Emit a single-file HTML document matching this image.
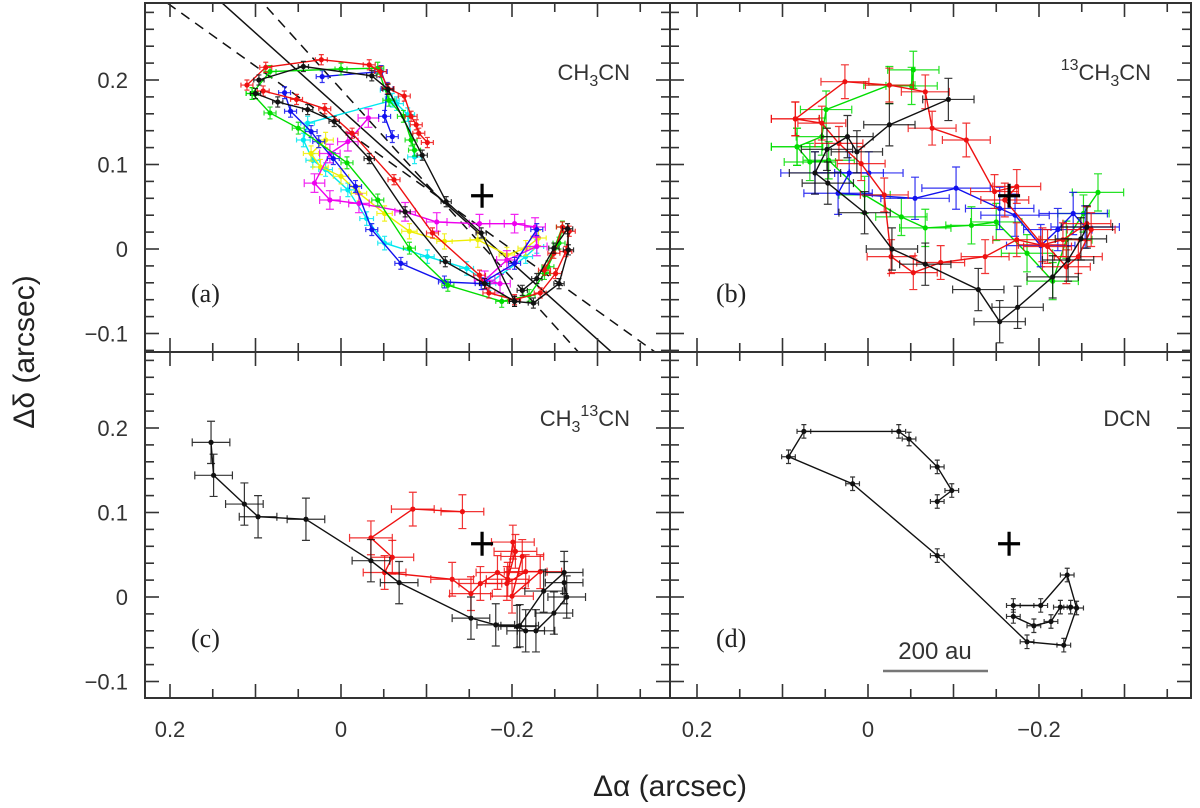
<!DOCTYPE html>
<html><head><meta charset="utf-8">
<style>
html,body{margin:0;padding:0;background:#fff;}
svg{display:block;font-family:"Liberation Sans","DejaVu Sans",sans-serif;}
</style></head>
<body>
<svg id="fig" width="1200" height="808" viewBox="0 0 1200 808" xmlns="http://www.w3.org/2000/svg">
<text x="670" y="796" font-size="30" text-anchor="middle" fill="#222">Δα (arcsec)</text>
<text transform="translate(34,352) rotate(-90)" font-size="30" text-anchor="middle" fill="#222">Δδ (arcsec)</text>
</svg>
<script>
// ---------- data (arcsec) ----------
const starPos = [-0.165, 0.063];
const xTicksLabels = ["0.2", "0", "\u22120.2"];
const xTickValues = [0.2, 0, -0.2];
const yTicksLabels = ["0.2", "0.1", "0", "\u22120.1"];
const yTickValues = [0.2, 0.1, 0, -0.1];
// panel (a) CH3CN
const aRedA = [[0.110,0.194],[0.088,0.215],[0.023,0.224],[-0.033,0.218],[-0.046,0.210],[-0.055,0.190],[-0.074,0.181],[-0.082,0.157],[-0.088,0.147],[-0.091,0.137],[-0.101,0.126]];
const aRedB = [[0.091,0.187],[0.052,0.177],[0.019,0.166],[-0.013,0.137],[-0.062,0.082],[-0.107,0.019],[-0.162,-0.031],[-0.173,-0.052],[-0.203,-0.060],[-0.233,-0.052],[-0.251,-0.029],[-0.263,-0.003],[-0.267,0.021],[-0.259,0.026],[-0.249,-0.005],[-0.238,-0.025]];
const aBlackA = [[0.096,0.200],[0.044,0.216],[-0.036,0.205],[-0.055,0.189],[-0.095,0.111],[-0.123,0.056],[-0.164,0.019],[-0.203,-0.062]];
const aBlackB = [[0.100,0.184],[0.074,0.174],[0.039,0.165],[0.008,0.151],[-0.033,0.107],[-0.075,0.044],[-0.122,-0.015],[-0.168,-0.041],[-0.203,-0.062],[-0.225,-0.064],[-0.255,-0.041],[-0.266,-0.001],[-0.265,0.024],[-0.249,0.001],[-0.229,-0.035],[-0.212,-0.049]];
const aGreenA = [[0.104,0.184],[0.083,0.210],[0.000,0.213],[-0.043,0.214],[-0.056,0.176],[-0.073,0.157],[-0.082,0.129],[-0.086,0.117]];
const aGreenB = [[0.104,0.184],[0.083,0.161],[0.050,0.143],[-0.007,0.102],[-0.043,0.058],[-0.080,0.001],[-0.125,-0.043],[-0.188,-0.062],[-0.220,-0.055],[-0.238,-0.029],[-0.259,0.026],[-0.255,0.007],[-0.242,-0.021]];
const aBlueA = [[0.022,0.204],[-0.047,0.210],[-0.054,0.190],[-0.051,0.157],[-0.060,0.133]];
const aBlueB = [[0.066,0.185],[0.059,0.163],[0.035,0.139],[0.026,0.127],[0.009,0.107],[-0.017,0.074],[-0.036,0.023],[-0.070,-0.017],[-0.121,-0.039],[-0.164,-0.041],[-0.203,-0.017],[-0.229,0.023]];
const aCyanA = [[-0.054,0.188],[-0.065,0.172],[-0.078,0.159],[-0.086,0.109]];
const aCyanB = [[-0.060,0.176],[0.039,0.149],[0.044,0.129],[0.033,0.105],[0.018,0.094],[-0.008,0.070],[-0.030,0.036],[-0.051,0.007],[-0.101,-0.009],[-0.147,-0.023],[-0.173,-0.041],[-0.216,-0.009],[-0.229,0.003]];
const aYellow = [[0.018,0.129],[0.035,0.113],[0.024,0.097],[0.000,0.086],[-0.021,0.066],[-0.051,0.042],[-0.080,0.021],[-0.121,0.009],[-0.160,0.011],[-0.194,-0.007],[-0.216,0.001],[-0.231,0.013]];
const aMagenta = [[-0.032,0.155],[-0.008,0.127],[0.013,0.113],[0.031,0.078],[0.013,0.058],[-0.021,0.054],[-0.075,0.044],[-0.112,0.032],[-0.162,0.030],[-0.203,0.030],[-0.227,0.026],[-0.229,0.003],[-0.194,-0.013],[-0.168,-0.037],[-0.186,-0.041]];
// fitted lines in (a): slope, intercept
const fitSlopes = [0.907, 0.724, 1.12];
const fitIntercepts = [0.165, 0.144, 0.189];
// panel (b) 13CH3CN
const bRedA = [[0.085,0.154],[0.027,0.198],[-0.025,0.194],[-0.067,0.186],[-0.075,0.143],[-0.115,0.129],[-0.148,0.068],[-0.174,0.074],[-0.160,0.058],[-0.204,0.005],[-0.228,0.011],[-0.256,0.030]];
const bRedB = [[0.085,0.154],[0.054,0.149],[0.034,0.125],[0.008,0.101],[-0.019,0.064],[-0.027,-0.009],[-0.053,-0.028],[-0.085,-0.016],[-0.137,-0.009],[-0.174,0.011],[-0.210,0.003],[-0.232,-0.021],[-0.246,-0.009],[-0.261,0.023]];
const bBlack = [[-0.094,0.177],[-0.025,0.147],[0.013,0.115],[0.024,0.133],[0.048,0.118],[0.062,0.090],[0.047,0.078],[0.004,0.043],[-0.028,0.000],[-0.067,-0.018],[-0.129,-0.048],[-0.154,-0.086],[-0.175,-0.069],[-0.216,-0.033],[-0.234,-0.013],[-0.249,0.012],[-0.256,0.026]];
const bGreenA = [[0.083,0.121],[0.054,0.133],[0.049,0.165],[-0.025,0.194],[-0.051,0.193],[-0.053,0.212]];
const bGreenB = [[0.083,0.121],[0.068,0.103],[0.046,0.105],[0.004,0.064],[-0.039,0.038],[-0.067,0.025],[-0.121,0.028],[-0.150,0.032],[-0.186,-0.005],[-0.216,-0.038],[-0.232,0.011],[-0.252,0.042],[-0.269,0.067]];
const bBlue = [[0.062,0.090],[-0.001,0.090],[0.022,0.090],[0.035,0.066],[-0.055,0.060],[-0.103,0.072],[-0.154,0.048],[-0.172,0.040],[-0.202,0.004],[-0.222,0.023],[-0.240,0.042],[-0.254,0.026]];
// panel (c) CH3 13CN
const cBlack = [[0.152,0.183],[0.149,0.144],[0.113,0.110],[0.097,0.095],[0.041,0.092],[-0.035,0.043],[-0.068,0.017],[-0.152,-0.025],[-0.181,-0.033],[-0.206,-0.035],[-0.216,-0.040],[-0.228,-0.040],[-0.249,-0.019],[-0.264,0.000],[-0.261,0.017],[-0.261,0.029],[-0.237,0.007],[-0.209,-0.034]];
const cRed = [[-0.142,0.101],[-0.084,0.104],[-0.035,0.070],[-0.060,0.047],[-0.051,0.029],[-0.130,0.021],[-0.152,0.004],[-0.163,0.016],[-0.183,0.029],[-0.195,0.021],[-0.204,0.054],[-0.201,0.065],[-0.194,0.016],[-0.216,0.030],[-0.233,0.030],[-0.200,0.001],[-0.212,0.048]];
// panel (d) DCN
const dBlackA = [[-0.170,-0.010],[-0.202,-0.010],[-0.233,0.026],[-0.244,-0.013],[-0.229,-0.057],[-0.186,-0.053],[-0.081,0.049],[0.018,0.134],[0.093,0.166],[0.075,0.196],[-0.036,0.196],[-0.048,0.187],[-0.081,0.154],[-0.098,0.126],[-0.081,0.113]];
const dBlackB = [[-0.170,-0.023],[-0.194,-0.034],[-0.214,-0.029],[-0.225,-0.012],[-0.237,-0.012]];

// ---------- drawing ----------
const NS = "http://www.w3.org/2000/svg";
const svg = document.getElementById("fig");
const PX = 855, PY = 845;
const panels = [
  {id:"a", left:145, right:670, top:3, bottom:352, x02:170, y0:249, label:"(a)", mol:"CH3CN"},
  {id:"b", left:670, right:1191, top:3, bottom:352, x02:697, y0:249, label:"(b)", mol:"13CH3CN"},
  {id:"c", left:145, right:670, top:352, bottom:698, x02:170, y0:597, label:"(c)", mol:"CH313CN"},
  {id:"d", left:670, right:1191, top:352, bottom:698, x02:697, y0:597, label:"(d)", mol:"DCN"}
];
function sx(p, v){ return p.x02 + (0.2 - v) * PX; }
function sy(p, v){ return p.y0 - v * PY; }
function mk(tag, attrs, parent){
  const e = document.createElementNS(NS, tag);
  for (const k in attrs) e.setAttribute(k, attrs[k]);
  (parent || svg).appendChild(e);
  return e;
}

panels.forEach(p => {
  const g = mk("g", {});
  
  
  const cp = mk("clipPath", {id:"clip-" + p.id}, g);
  mk("rect", {x:p.left, y:p.top, width:p.right - p.left, height:p.bottom - p.top}, cp);
  p.g = g;
  p.plot = mk("g", {"clip-path":"url(#clip-" + p.id + ")"}, g);
  const tg = mk("g", {stroke:"#333", "stroke-width":"1.6"}, g);
  
  
  for (let i = -10; i <= 6; i++) {
    const v = i * 0.05;
    const x = sx(p, v);
    if (x <= p.left + 1 || x >= p.right - 1) continue;
    const len = (i % 2 === 0) ? 14 : 9;
    mk("line", {x1:x, x2:x, y1:p.bottom, y2:p.bottom - len}, tg);
    mk("line", {x1:x, x2:x, y1:p.top, y2:p.top + len}, tg);
  }
  for (let i = -8; i <= 16; i++) {
    const v = i * 0.02;
    const y = sy(p, v);
    if (y <= p.top + 1 || y >= p.bottom - 1) continue;
    const len = (i % 5 === 0) ? 14 : 9;
    mk("line", {x1:p.left, x2:p.left + len, y1:y, y2:y}, tg);
    mk("line", {x1:p.right, x2:p.right - len, y1:y, y2:y}, tg);
  }
  const fr = mk("rect", {x:p.left, y:p.top, width:p.right - p.left, height:p.bottom - p.top, fill:"none", stroke:"#333", "stroke-width":"2"}, g);
  
  
  const lt = mk("text", {x:p.left + 46, y:p.id < "c" ? 302 : 647, "font-size":"26", "font-family":"Liberation Serif, serif", fill:"#222"}, g);
  lt.textContent = p.label;
  
  
  const my = p.id < "c" ? 80 : 426;
  const mt = mk("text", {x:p.right - 40, y:my, "font-size":"22", "text-anchor":"end", fill:"#333"}, g);
  
  
  const parts = {
    "CH3CN": [["CH",0],["3",1],["CN",0]],
    "13CH3CN": [["13",-1],["CH",0],["3",1],["CN",0]],
    "CH313CN": [["CH",0],["3",1],["13",-1],["CN",0]],
    "DCN": [["DCN",0]]
  }[p.mol];
  parts.forEach(([t, s]) => {
    const ts = mk("tspan", {}, mt);
    if (s !== 0) {
      ts.setAttribute("font-size", "16");
      ts.setAttribute("baseline-shift", s > 0 ? "-6" : "10");
    }
    ts.textContent = t;
  });
  const cx = sx(p, starPos[0]), cy = sy(p, starPos[1]);
  const cr = mk("path", {d:`M${cx-11},${cy}H${cx+11}M${cx},${cy-12}V${cy+12}`, stroke:"#000", "stroke-width":"3.2", fill:"none"}, g);
  
  
});

panels.forEach(p => {
  if (p.id === "c" || p.id === "d") {
    xTickValues.forEach((v, i) => {
      const t = mk("text", {x:sx(p, v), y:737, "font-size":"22", "text-anchor":"middle", fill:"#333"});
      t.textContent = xTicksLabels[i];
      
      
    });
  }
  if (p.id === "a" || p.id === "c") {
    yTickValues.forEach((v, i) => {
      const t = mk("text", {x:128, y:sy(p, v) + 8, "font-size":"22", "text-anchor":"end", fill:"#333"});
      t.textContent = yTicksLabels[i];
      
      
    });
  }
});

const pa = panels[0];
fitSlopes.forEach((m, i) => {
  const x1 = 0.3, x2 = -0.45;
  const l = mk("line", {x1:sx(pa, x1), y1:sy(pa, fitIntercepts[i] + m * x1), x2:sx(pa, x2), y2:sy(pa, fitIntercepts[i] + m * x2), stroke:"#111", "stroke-width":"1.5", "stroke-dasharray": i === 0 ? "none" : "10,7", fill:"none"}, pa.plot);
  
  
});

function series(p, pts, color, ex, ey, name){
  const g = mk("g", {}, p.plot);
  
  
  const d = pts.map((q, i) => (i ? "L" : "M") + sx(p, q[0]).toFixed(1) + "," + sy(p, q[1]).toFixed(1)).join("");
  mk("path", {d:d, fill:"none", stroke:color, "stroke-width":"1.4"}, g);
  const c = ex * PX < 10 ? 2.5 : 4;
  pts.forEach(q => {
    const x = sx(p, q[0]), y = sy(p, q[1]);
    const dx = ex * PX, dy = ey * PY;
    mk("path", {d:`M${x-dx},${y}H${x+dx}M${x},${y-dy}V${y+dy}M${x-dx},${y-c}V${y+c}M${x+dx},${y-c}V${y+c}M${x-c},${y-dy}H${x+c}M${x-c},${y+dy}H${x+c}`, stroke:color, "stroke-width":"1.2", fill:"none", opacity:"0.85"}, g);
    mk("circle", {cx:x, cy:y, r:2.6, fill:color}, g);
  });
}
const RED = "#ee1111", GRN = "#00dd00", BLU = "#1111ee", CYN = "#00e8f0", YEL = "#eeee00", MAG = "#ee00ee", BLK = "#111";
const pb = panels[1], pc = panels[2], pd = panels[3];
series(pa, aCyanA, CYN, 0.008, 0.008, "series-a-cyan-1");
series(pa, aCyanB, CYN, 0.008, 0.008, "series-a-cyan-2");
series(pa, aYellow, YEL, 0.009, 0.009, "series-a-yellow");
series(pa, aMagenta, MAG, 0.012, 0.011, "series-a-magenta");
series(pa, aBlueA, BLU, 0.007, 0.007, "series-a-blue-1");
series(pa, aBlueB, BLU, 0.007, 0.007, "series-a-blue-2");
series(pa, aGreenA, GRN, 0.007, 0.007, "series-a-green-1");
series(pa, aGreenB, GRN, 0.007, 0.007, "series-a-green-2");
series(pa, aRedA, RED, 0.007, 0.006, "series-a-red-1");
series(pa, aRedB, RED, 0.007, 0.006, "series-a-red-2");
series(pa, aBlackA, BLK, 0.006, 0.006, "series-a-black-1");
series(pa, aBlackB, BLK, 0.006, 0.006, "series-a-black-2");

series(pb, bGreenA, GRN, 0.03, 0.022, "series-b-green-1");
series(pb, bGreenB, GRN, 0.03, 0.022, "series-b-green-2");
series(pb, bBlue, BLU, 0.04, 0.025, "series-b-blue");
series(pb, bRedA, RED, 0.028, 0.02, "series-b-red-1");
series(pb, bRedB, RED, 0.028, 0.02, "series-b-red-2");
series(pb, bBlack, BLK, 0.03, 0.025, "series-b-black");

series(pc, cRed, RED, 0.025, 0.02, "series-c-red");
series(pc, cBlack, BLK, 0.022, 0.025, "series-c-black");

series(pd, dBlackA, BLK, 0.008, 0.008, "series-d-black-1");
series(pd, dBlackB, BLK, 0.008, 0.008, "series-d-black-2");

const sb = mk("g", {});


mk("line", {x1:883, x2:988, y1:671, y2:671, stroke:"#777", "stroke-width":"2.5"}, sb);
const st = mk("text", {x:935, y:659, "font-size":"24", "text-anchor":"middle", fill:"#333"}, sb);
st.textContent = "200 au";
</script>
</body></html>
